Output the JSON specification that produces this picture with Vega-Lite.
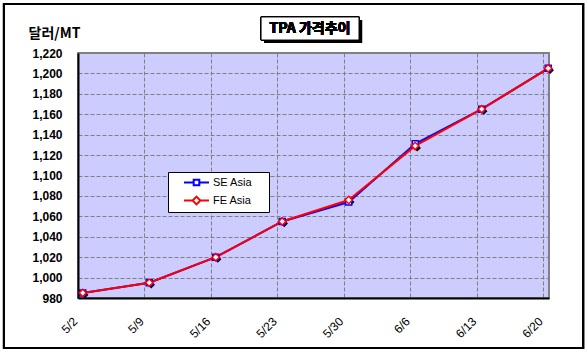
{
  "$schema": "https://vega.github.io/schema/vega-lite/v6.json",
  "autosize": "none",
  "width": 471,
  "height": 245,
  "padding": {"left": 78, "top": 53, "right": 39, "bottom": 59},
  "background": "white",
  "config": {
    "view": {"fill": "#CCCCFF", "stroke": "#808080", "strokeWidth": 2},
    "legend": {
      "orient": "none", "legendX": 90, "legendY": 119,
      "strokeColor": "black", "fillColor": "white", "padding": 3,
      "symbolSize": 156, "symbolStrokeWidth": 2, "symbolOpacity": 1, "symbolFillColor": "white",
      "symbolOffset": 18,
      "labelFont": "Liberation Sans", "labelFontSize": 11, "labelColor": "black",
      "labelOffset": 9, "rowPadding": 2
    }
  },
  "data": {"values": [
    {"date": "2008-05-02T12:00:00", "series": "SE Asia", "price": 985},
    {"date": "2008-05-09T12:00:00", "series": "SE Asia", "price": 995},
    {"date": "2008-05-16T12:00:00", "series": "SE Asia", "price": 1020},
    {"date": "2008-05-23T12:00:00", "series": "SE Asia", "price": 1055},
    {"date": "2008-05-30T12:00:00", "series": "SE Asia", "price": 1074},
    {"date": "2008-06-06T12:00:00", "series": "SE Asia", "price": 1131},
    {"date": "2008-06-13T12:00:00", "series": "SE Asia", "price": 1165},
    {"date": "2008-06-20T12:00:00", "series": "SE Asia", "price": 1205},
    {"date": "2008-05-02T12:00:00", "series": "FE Asia", "price": 985},
    {"date": "2008-05-09T12:00:00", "series": "FE Asia", "price": 995},
    {"date": "2008-05-16T12:00:00", "series": "FE Asia", "price": 1020},
    {"date": "2008-05-23T12:00:00", "series": "FE Asia", "price": 1055},
    {"date": "2008-05-30T12:00:00", "series": "FE Asia", "price": 1076},
    {"date": "2008-06-06T12:00:00", "series": "FE Asia", "price": 1129},
    {"date": "2008-06-13T12:00:00", "series": "FE Asia", "price": 1165},
    {"date": "2008-06-20T12:00:00", "series": "FE Asia", "price": 1205}
  ]},
  "encoding": {
    "x": {
      "field": "date", "type": "temporal",
      "scale": {"domain": [{"year": 2008, "month": 5, "date": 2}, {"year": 2008, "month": 6, "date": 20, "hours": 14}]},
      "axis": {
        "title": null,
        "values": [
          {"year": 2008, "month": 5, "date": 2}, {"year": 2008, "month": 5, "date": 9},
          {"year": 2008, "month": 5, "date": 16}, {"year": 2008, "month": 5, "date": 23},
          {"year": 2008, "month": 5, "date": 30}, {"year": 2008, "month": 6, "date": 6},
          {"year": 2008, "month": 6, "date": 13}, {"year": 2008, "month": 6, "date": 20}
        ],
        "format": "%-m/%-d",
        "labelAngle": -45, "labelAlign": "right", "labelBaseline": "middle",
        "labelPadding": 21, "labelOffset": -3,
        "labelFont": "Liberation Sans", "labelFontSize": 12, "labelColor": "black",
        "labelOverlap": false,
        "ticks": false,
        "domainColor": "black", "domainWidth": 2,
        "grid": true, "gridColor": "#808080", "gridDash": [4, 2], "gridWidth": 1, "gridOpacity": 1
      }
    },
    "y": {
      "field": "price", "type": "quantitative",
      "scale": {"domain": [980, 1220], "nice": false, "zero": false},
      "axis": {
        "values": [980, 1000, 1020, 1040, 1060, 1080, 1100, 1120, 1140, 1160, 1180, 1200, 1220],
        "format": ",d",
        "labelFont": "Liberation Sans", "labelFontSize": 12, "labelFontWeight": "bold", "labelColor": "black",
        "labelPadding": 16,
        "ticks": false,
        "domainColor": "black", "domainWidth": 2,
        "grid": true, "gridColor": "#808080", "gridDash": [4, 2], "gridWidth": 1, "gridOpacity": 1,
        "title": "달러/MT", "titleAngle": 0, "titleX": -24, "titleY": -20,
        "titleAlign": "center", "titleBaseline": "middle",
        "titleFont": "Noto Sans CJK KR", "titleFontSize": 14, "titleFontWeight": "bold", "titleColor": "black"
      }
    }
  },
  "layer": [
    {
      "mark": {"type": "rect", "fill": null, "stroke": "black", "strokeWidth": 2, "clip": false},
      "encoding": {
        "x": {"datum": {"year": 2008, "month": 4, "date": 24, "hours": 5}, "type": "temporal"},
        "x2": {"datum": {"year": 2008, "month": 6, "date": 24, "hours": 4}},
        "y": {"datum": 1268},
        "y2": {"datum": 931}
      }
    },
    {
      "mark": {"type": "rect", "fill": "black", "xOffset": 3, "x2Offset": 3, "yOffset": 3, "y2Offset": 3, "clip": false},
      "encoding": {
        "x": {"datum": {"year": 2008, "month": 5, "date": 21, "hours": 6, "minutes": 30}, "type": "temporal"},
        "x2": {"datum": {"year": 2008, "month": 5, "date": 31, "hours": 14}},
        "y": {"datum": 1255.3},
        "y2": {"datum": 1232.7}
      }
    },
    {
      "mark": {"type": "rect", "fill": "white", "stroke": "black", "strokeWidth": 1, "clip": false},
      "encoding": {
        "x": {"datum": {"year": 2008, "month": 5, "date": 21, "hours": 6, "minutes": 30}, "type": "temporal"},
        "x2": {"datum": {"year": 2008, "month": 5, "date": 31, "hours": 14}},
        "y": {"datum": 1255.3},
        "y2": {"datum": 1232.7}
      }
    },
    {
      "mark": {"type": "text", "text": "TPA 가격추이", "font": "Noto Sans CJK KR", "fontSize": 14, "fontWeight": "bold", "color": "black", "align": "center", "baseline": "middle", "clip": false},
      "encoding": {
        "x": {"datum": {"year": 2008, "month": 5, "date": 26, "hours": 10}, "type": "temporal"},
        "y": {"datum": 1243.5}
      }
    },
    {
      "transform": [{"filter": "datum.series === 'SE Asia'"}],
      "mark": {"type": "line", "color": "#0000FF", "strokeWidth": 2}
    },
    {
      "transform": [{"filter": "datum.series === 'FE Asia'"}],
      "mark": {"type": "line", "color": "#FF0000", "strokeWidth": 2}
    },
    {
      "transform": [{"filter": "datum.series === 'FE Asia'"}],
      "mark": {"type": "point", "shape": "diamond", "filled": true, "fill": "black", "stroke": null, "size": 55, "xOffset": 2, "yOffset": 2, "opacity": 1}
    },
    {
      "transform": [{"filter": "datum.series === 'SE Asia'"}],
      "mark": {"type": "point", "shape": "square", "filled": true, "fill": "white", "stroke": "#0000FF", "strokeWidth": 1.5, "size": 36, "opacity": 1}
    },
    {
      "transform": [{"filter": "datum.series === 'FE Asia'"}],
      "mark": {"type": "point", "shape": "diamond", "filled": true, "fill": "white", "stroke": "#FF0000", "strokeWidth": 1.5, "size": 55, "opacity": 1}
    },
    {
      "mark": {"type": "point", "filled": false, "opacity": 0},
      "encoding": {
        "color": {"field": "series", "type": "nominal", "title": null,
          "scale": {"domain": ["SE Asia", "FE Asia"], "range": ["#0000FF", "#FF0000"]}},
        "shape": {"field": "series", "type": "nominal", "title": null,
          "scale": {"domain": ["SE Asia", "FE Asia"], "range": [
            "M10.4,0M-2,0H-0.45M0.45,0H2M-0.45,-0.45H0.45V0.45H-0.45Z",
            "M10.4,0M-2,0H-0.62M0.62,0H2M0,-0.62L0.62,0L0,0.62L-0.62,0Z"
          ]}}
      }
    }
  ]
}
